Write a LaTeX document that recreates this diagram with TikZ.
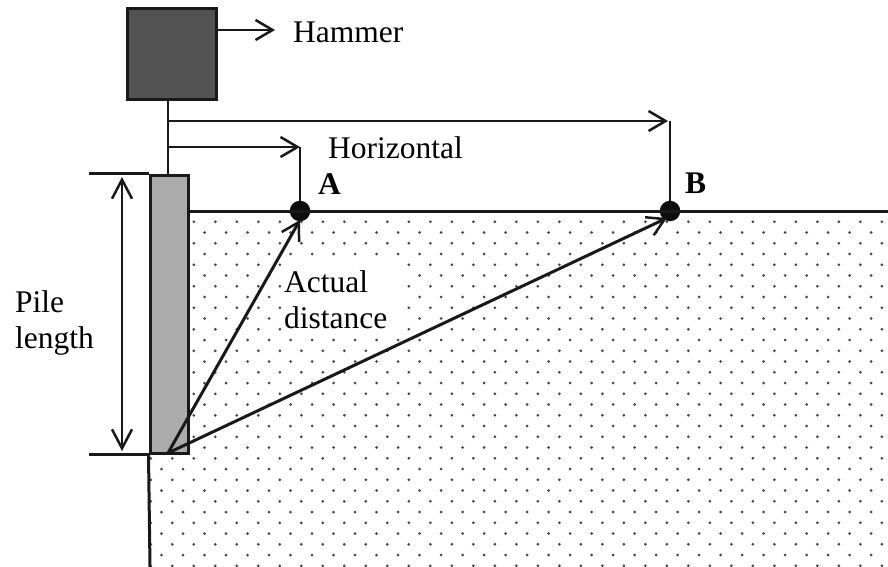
\documentclass[tikz,border=0pt]{standalone}
\usepackage{fontspec}
\setmainfont{Liberation Serif}
\usetikzlibrary{arrows.meta}
\begin{document}
\begin{tikzpicture}[x=1pt,y=-1pt,
  ln/.style={line width=2.5pt, draw=black!90},
  thick ln/.style={line width=3pt, draw=black!90},
  barb/.style={-{Straight Barb[length=17pt,width=20pt,line width=2.5pt]}},
  dbarb/.style={{Straight Barb[length=19pt,width=20pt,line width=2.5pt]}-{Straight Barb[length=19pt,width=20pt,line width=2.5pt]}},
  lbl/.style={font=\fontsize{31.5}{36}\selectfont, inner sep=0pt, anchor=base west},
  bl/.style={font=\fontsize{31.5}{36}\selectfont\bfseries, inner sep=0pt, anchor=base west},
  pt/.style={circle, fill=black!95, minimum size=20.5pt, inner sep=0pt},
]
\useasboundingbox (0,0) rectangle (888,567);
% soil dots
\begin{scope}
  \clip (188,211) rectangle (889,453) (148,453) rectangle (889,568);
  \foreach \k in {0,...,34}{
    \pgfmathsetmacro\xo{mod(\k,2)*10.75}
    \foreach \m in {-32,...,3}{
      \fill[black!72] (828+\xo+21.5*\m, 211+10.75*\k) circle (1.5);
    }
  }
\end{scope}
% white patch behind label
\fill[white] (282,259) rectangle (402,334);
% nodes
\node[thick ln, fill=black!68, minimum width=89pt, minimum height=91pt, inner sep=0pt] (H) at (171.5,54.5) {};
\node[thick ln, fill=black!33, minimum width=38pt, minimum height=278pt, inner sep=0pt] (P) at (169,314) {};
\node[pt] (A) at (300,211) {};
\node[pt] (B) at (670,211) {};
\node[lbl] (hl) at (293,43) {Hammer};
\node[lbl] (hz) at (328,158) {Horizontal};
\node[bl] (al) at (318,194) {A};
\node[bl] (bl2) at (685,193) {B};
\node[lbl] (ac1) at (284,292) {Actual};
\node[lbl] (ac2) at (284,328) {distance};
\node[lbl] (pl1) at (15,312) {Pile};
\node[lbl] (pl2) at (15,348) {length};
% coordinates
\coordinate (hs) at (216,30);
\coordinate (he) at (275,30);
\coordinate (stem) at (168,100);
\coordinate (ptop) at (168,175);
\coordinate (u0) at (168,121);
\coordinate (u1) at (668,121);
\coordinate (uB) at (670,121);
\coordinate (l0) at (168,147);
\coordinate (l1) at (300,147);
\coordinate (base) at (168,453);
\coordinate (tipA) at (300,220);
\coordinate (tipB) at (667,218);
\coordinate (g1) at (888,211);
\coordinate (bot) at (150,567);
\coordinate (d1) at (122,177);
\coordinate (d2) at (122,451);
% ground
\draw[thick ln] (P.north east |- A) -- (g1);
\draw[thick ln] (P.south west) -- (bot);
% hammer arrow and stem
\draw[ln,barb] (hs) -- (he);
\draw[ln] (stem) -- (ptop);
\draw[ln,barb] (u0) -- (u1);
\draw[ln,barb] (l0) -- (l1);
\draw[ln] (uB) -- (B);
\draw[ln] (l1) -- (A);
% actual distance arrows
\draw[thick ln,barb] (base) -- (tipA);
\draw[thick ln,barb] (base) -- (tipB);
% pile length dimension
\draw[ln] (P.north west) -- ++(-60,0);
\draw[ln] (P.south west) -- ++(-60,0);
\draw[ln,dbarb] (d1) -- (d2);
\end{tikzpicture}
\end{document}
